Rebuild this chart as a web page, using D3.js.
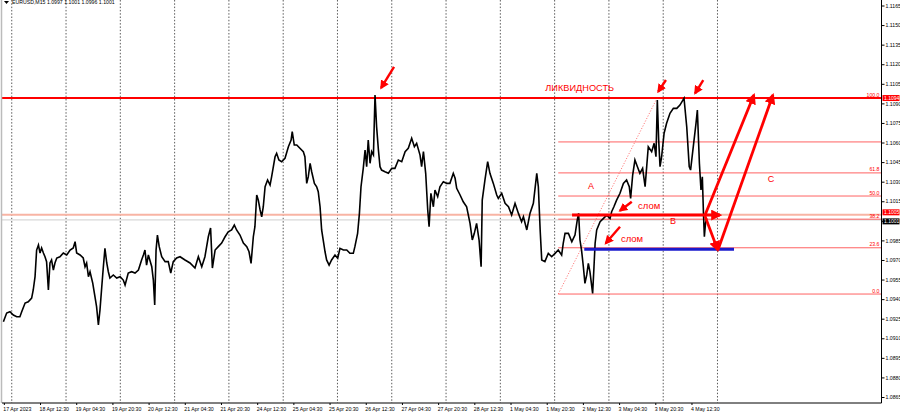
<!DOCTYPE html>
<html><head><meta charset="utf-8">
<script src="https://cdn.jsdelivr.net/npm/d3@7/dist/d3.min.js"></script>
<style>
html,body{margin:0;padding:0;background:#fff;}
svg{display:block;}
text{font-family:"Liberation Sans",Arial,sans-serif;}
</style></head>
<body>
<svg id="chart" width="900" height="417"></svg>
<script>
// ---- DATA ----
// trading hours since 17 Apr 2023 20:00 (weekends skipped), EURUSD M15 close
const hours = [0.3,1.75,3.2,4.7,6.2,7.6,8.4,9.9,11.3,12.8,13.5,14.3,15.0,15.8,16.5,17.2,18.0,18.7,19.4,20.2,20.9,21.6,22.4,23.1,23.9,25.3,26.8,28.3,29.8,31.2,32.0,32.7,34.2,35.6,36.4,37.1,37.9,38.6,39.8,40.8,41.5,42.3,43.0,43.8,44.5,45.2,46.0,46.7,47.4,48.9,50.4,51.9,53.3,54.1,55.5,57.0,58.5,60.0,61.4,62.2,62.9,63.6,64.4,65.9,66.6,67.2,67.8,68.4,69.2,70.3,71.8,73.2,74.3,75.4,76.9,78.4,
80.6,82.8,85.0,86.5,88.0,89.4,90.9,91.9,92.7,93.9,95.3,96.8,98.3,99.7,101.2,102.4,103.4,104.9,106.4,107.9,108.9,109.8,110.8,111.5,112.3,113.0,113.8,114.5,115.2,116.0,117.1,118.2,118.9,120.4,121.1,122.1,123.3,124.8,126.3,127.5,128.0,128.9,130.0,131.4,132.9,133.6,134.4,135.1,135.9,136.6,137.8,138.8,139.5,140.3,141.0,141.7,142.5,143.2,144.3,145.4,146.9,148.1,149.1,150.6,152.1,153.5,155.0,155.7,156.9,157.7,158.4,159.4,160.2,
160.9,161.6,162.4,163.1,163.9,164.6,165.3,166.1,166.8,167.5,169.0,170.5,172.0,173.4,174.9,176.4,177.9,179.3,180.8,182.0,183.0,184.5,185.2,186.0,187.0,187.9,188.5,189.3,190.4,191.1,192.3,193.3,194.8,196.3,197.7,199.2,200.0,200.7,202.2,203.6,205.1,206.6,207.6,208.5,209.5,210.6,211.5,212.0,213.2,214.4,215.4,216.9,218.4,219.1,220.6,222.1,223.6,225.0,226.5,228.0,229.4,230.2,231.7,233.1,234.6,236.1,236.8,237.6,
238.3,239.7,241.2,242.7,244.2,245.6,247.1,247.8,248.6,250.1,251.6,253.0,254.0,254.6,255.2,255.9,256.7,257.4,258.2,258.9,259.6,260.8,261.4,261.9,262.6,264.1,265.6,267.0,268.5,269.2,270.2,271.4,272.9,274.4,275.8,277.0,277.6,278.5,279.5,280.6,281.7,282.9,284.0,284.7,285.4,286.9,288.0,288.8,289.4,290.0,290.6,291.3,292.4,293.5,295.0,296.5,298.0,299.4,301.2,302.4,303.5,304.1,305.3,306.5,307.1,308.0,308.7,309.3,309.8,310.2,310.7,311.2];
const closes = [1.09227,1.09293,1.09303,1.09278,1.09265,1.09265,1.09303,1.0937,1.0938,1.09408,1.0947,1.09572,1.09776,1.09815,1.09753,1.09792,1.09753,1.09725,1.09687,1.0947,1.09677,1.097,1.09623,1.09677,1.09715,1.09725,1.09753,1.09738,1.09776,1.09792,1.0984,1.09753,1.09738,1.09715,1.09648,1.09677,1.09572,1.0961,1.09523,1.09418,1.09342,1.09202,1.09316,1.09495,1.09648,1.09789,1.09677,1.0961,1.09562,1.09585,1.09562,1.09572,1.09546,1.09508,1.096,1.0961,1.096,1.09623,1.097,1.09738,1.09776,1.09661,1.09738,1.09648,1.09546,1.09355,1.09776,1.09891,1.09802,1.09725,1.09687,1.09687,1.096,1.09687,1.09715,1.09725,
1.097,1.09677,1.09638,1.09725,1.09648,1.09725,1.09878,1.09945,1.09638,1.09776,1.09802,1.0983,1.09878,1.09916,1.0993,1.09968,1.0993,1.09891,1.0983,1.09802,1.09763,1.09674,1.09878,1.09955,1.10198,1.10159,1.10083,1.10031,1.10108,1.10261,1.10313,1.10274,1.10338,1.10491,1.10517,1.10466,1.10453,1.10479,1.10568,1.10619,1.10683,1.10581,1.10581,1.10556,1.1053,1.10491,1.10287,1.10338,1.10441,1.10376,1.10287,1.10261,1.10223,1.10108,1.0993,1.09853,1.09763,1.097,1.09661,1.097,1.09738,1.09713,1.09789,1.09776,1.09776,1.09751,1.09751,1.09802,1.09904,1.10057,1.10261,1.10402,1.10543,
1.10415,1.10619,1.10441,1.1053,1.10504,1.10964,1.10721,1.10543,1.10415,1.10389,1.10376,1.10364,1.10402,1.10402,1.10466,1.10453,1.1053,1.10556,1.10632,1.10568,1.10594,1.10504,1.10415,1.1053,1.10364,1.10083,1.09955,1.10211,1.10108,1.10236,1.10185,1.10261,1.103,1.10287,1.10287,1.10364,1.10326,1.10249,1.10198,1.10146,1.10108,1.09981,1.09853,1.09904,1.09981,1.09853,1.09648,1.10159,1.10313,1.10453,1.10364,1.10287,1.10198,1.10172,1.10211,1.10134,1.10108,1.10044,1.10134,1.10057,1.09993,1.10031,1.0993,1.10057,1.10134,1.10364,1.10261,1.0993,
1.097,1.09687,1.09751,1.09725,1.09751,1.09776,1.09738,1.09828,1.09904,1.09904,1.0984,1.09891,1.10006,1.10057,1.09853,1.09776,1.09648,1.09521,1.09585,1.09674,1.0961,1.09444,1.09648,1.09828,1.0993,1.09993,1.10019,1.10044,1.10019,1.1007,1.10108,1.10159,1.10211,1.10287,1.10313,1.10261,1.10172,1.10351,1.10466,1.10415,1.10364,1.10402,1.10261,1.10415,1.10568,1.1053,1.10594,1.10491,1.10926,1.10619,1.10415,1.10491,1.10671,1.10747,1.10824,1.10862,1.10862,1.10887,1.10939,1.10721,1.10415,1.10389,1.10568,1.10747,1.10849,1.10441,1.10236,1.10338,1.10057,1.09878,1.09981,1.10019];

const priceTicks = [1.1165,1.1150,1.1135,1.1120,1.1105,1.1090,1.1075,1.1060,1.1045,1.1030,1.1015,1.1000,1.0985,1.0970,1.0955,1.0940,1.0925,1.0910,1.0895,1.0880,1.0865];
const timeTickHours = [0.5,16.5,32.5,48.5,64.5,80.5,96.5,112.5,128.5,144.5,160.5,176.5,192.5,208.5,224.5,240.5,256.5,272.5,288.5,304.5];
const timeTickLabels = ["17 Apr 2023","18 Apr 12:30","19 Apr 04:30","19 Apr 20:30","20 Apr 12:30","21 Apr 04:30","21 Apr 20:30","24 Apr 12:30","25 Apr 04:30","25 Apr 20:30","26 Apr 12:30","27 Apr 04:30","27 Apr 20:30","28 Apr 12:30","1 May 04:30","1 May 20:30","2 May 12:30","3 May 04:30","3 May 20:30","4 May 12:30"];
const gridHours = [4,28,52,76,100,124,148,172,196,220,244,268,292,316];

// annotation values
const liquidityPrice = 1.10941;
const fibLow = 1.09439, fibHigh = 1.10941;
const fibStartHour = 245.6, fibDiagEndHour = 289.3;
const fibRatios = [0, 0.236, 0.382, 0.5, 0.618, 0.776, 1];
const fibLabels = ["0.0","23.6","38.2","50.0","61.8","","100.0"];
const salmonPrice = 1.10046, bidPrice = 1.10015;
const breakLevel = {h0:251.7, h1:317.1, p:1.10044};
const blueLevel = {h0:257.1, h1:323.3, p:1.09782};
const bigArrows = [
  {h0:310.5,p0:1.10036,h1:316.1,p1:1.09776},
  {h0:310.5,p0:1.10044,h1:332.1,p1:1.10964},
  {h0:316.2,p0:1.09776,h1:340.5,p1:1.10964}
];
const smallArrows = [
  {h0:173.0,p0:1.11179,h1:167.3,p1:1.11018},
  {h0:293.2,p0:1.11079,h1:289.8,p1:1.1099},
  {h0:309.7,p0:1.11079,h1:306.1,p1:1.10977},
  {h0:278.1,p0:1.10146,h1:272.9,p1:1.10077},
  {h0:272.9,p0:1.09955,h1:266.6,p1:1.09828}
];
const textNotes = [
  {t:"ЛИКВИДНОСТЬ", h:239.9, p:1.10995, size:9.2},
  {t:"слом", h:280.9, p:1.10094, size:9.5},
  {t:"слом", h:273.3, p:1.09838, size:9.5},
  {t:"A", h:258.8, p:1.10244, size:9},
  {t:"B", h:295.0, p:1.09979, size:9},
  {t:"C", h:338.2, p:1.10300, size:9}
];

// ---- CHART ----
const svg = d3.select("#chart");
const RED = "#ff0000";
const x = d3.scaleLinear().domain([0,100]).range([2.7,228.9]);
const y = d3.scaleLinear().domain([1.0865,1.1165]).range([397,5.5]);
const plotL = 2, plotR = 881.5, plotT = 0, plotB = 403;

svg.append("rect").attr("width",900).attr("height",417).attr("fill","#fff");

const defs = svg.append("defs");
function marker(id,size){
  defs.append("marker").attr("id",id).attr("viewBox","0 0 10 10").attr("refX",8).attr("refY",5)
    .attr("markerWidth",size).attr("markerHeight",size).attr("markerUnits","userSpaceOnUse").attr("orient","auto")
    .append("path").attr("d","M0,0 L10,5 L0,10 Z").attr("fill",RED);
}
marker("ahBig",11); marker("ahSmall",9);

// grid
svg.append("g").selectAll("line").data(gridHours).join("line")
  .attr("x1",d=>x(d)).attr("x2",d=>x(d)).attr("y1",plotT).attr("y2",plotB)
  .attr("stroke","#333").attr("stroke-width",0.8).attr("stroke-dasharray","1.5,1.8");

// salmon level and bid line
svg.append("line").attr("x1",plotL).attr("x2",plotR).attr("y1",y(salmonPrice)).attr("y2",y(salmonPrice))
  .attr("stroke","#f8b4a4").attr("stroke-width",2);
svg.append("line").attr("x1",plotL).attr("x2",plotR).attr("y1",y(bidPrice)+1).attr("y2",y(bidPrice)+1)
  .attr("stroke","#d8d8d8").attr("stroke-width",1.2);

// fib
const fibG = svg.append("g");
fibG.selectAll("line").data(fibRatios).join("line")
  .attr("x1",x(fibStartHour)).attr("x2",plotR)
  .attr("y1",d=>y(fibLow+d*(fibHigh-fibLow))).attr("y2",d=>y(fibLow+d*(fibHigh-fibLow)))
  .attr("stroke","#ff5050").attr("stroke-width",0.9);
fibG.selectAll("text").data(fibRatios).join("text")
  .attr("x",plotR-2).attr("y",d=>y(fibLow+d*(fibHigh-fibLow))-1.5)
  .attr("text-anchor","end").attr("font-size",5.2).attr("fill",RED)
  .text((d,i)=>fibLabels[i]);
fibG.append("line").attr("x1",x(fibStartHour)).attr("y1",y(fibLow)).attr("x2",x(fibDiagEndHour)).attr("y2",y(fibHigh))
  .attr("stroke","#ff6060").attr("stroke-width",0.8).attr("stroke-dasharray","1.2,1.6");

// liquidity line
svg.append("line").attr("x1",plotL).attr("x2",plotR).attr("y1",y(liquidityPrice)).attr("y2",y(liquidityPrice))
  .attr("stroke",RED).attr("stroke-width",2);

// price line
const line = d3.line().x((d,i)=>x(hours[i])).y(d=>y(d));
svg.append("path").datum(closes).attr("d",line).attr("fill","none").attr("stroke","#000").attr("stroke-width",1.6)
  .attr("stroke-linejoin","miter");

// blue level
svg.append("line").attr("x1",x(blueLevel.h0)).attr("x2",x(blueLevel.h1)).attr("y1",y(blueLevel.p)).attr("y2",y(blueLevel.p))
  .attr("stroke","#1a1acc").attr("stroke-width",3.2);
// break level arrow
svg.append("line").attr("x1",x(breakLevel.h0)).attr("x2",x(breakLevel.h1)).attr("y1",y(breakLevel.p)).attr("y2",y(breakLevel.p))
  .attr("stroke",RED).attr("stroke-width",3).attr("marker-end","url(#ahBig)");

svg.append("g").selectAll("line").data(bigArrows).join("line")
  .attr("x1",d=>x(d.h0)).attr("y1",d=>y(d.p0)).attr("x2",d=>x(d.h1)).attr("y2",d=>y(d.p1))
  .attr("stroke",RED).attr("stroke-width",2.8).attr("marker-end","url(#ahBig)");
svg.append("g").selectAll("line").data(smallArrows).join("line")
  .attr("x1",d=>x(d.h0)).attr("y1",d=>y(d.p0)).attr("x2",d=>x(d.h1)).attr("y2",d=>y(d.p1))
  .attr("stroke",RED).attr("stroke-width",2.4).attr("marker-end","url(#ahSmall)");

svg.append("g").selectAll("text").data(textNotes).join("text")
  .attr("x",d=>x(d.h)).attr("y",d=>y(d.p)).attr("font-size",d=>d.size).attr("fill",RED).text(d=>d.t);

// frame
svg.append("line").attr("x1",1.5).attr("x2",1.5).attr("y1",0).attr("y2",plotB).attr("stroke","#bbb").attr("stroke-width",1.5);

// axis price boxes (drawn over the scale, hiding covered tick labels)
const boxes = [
  {p:liquidityPrice, label:"1.1094", fill:RED, dy:0},
  {p:salmonPrice, label:"1.1005", fill:RED, dy:-2.5},
  {p:bidPrice, label:"1.1001", fill:"#000", dy:2.5}
];

// axes
const yAxis = d3.axisRight(y).tickValues(priceTicks).tickFormat(d3.format(".4f")).tickSize(3).tickPadding(1);
const gy = svg.append("g").attr("transform",`translate(${plotR},0)`).call(yAxis);
gy.select(".domain").attr("d",`M0,0V${plotB}`).attr("stroke","#000");
gy.selectAll("text").attr("font-size",5.2).attr("font-family","Liberation Sans, Arial, sans-serif").attr("fill","#000")
  .filter(d=>boxes.some(b=>Math.abs(y(b.p)+b.dy-y(d))<4.5)).remove();

const xAxis = d3.axisBottom(x).tickValues(timeTickHours).tickFormat((d,i)=>timeTickLabels[i]).tickSize(2).tickPadding(2);
const gx = svg.append("g").attr("transform",`translate(0,${plotB})`).call(xAxis);
gx.select(".domain").attr("d",`M${plotL},0H${plotR}`).attr("stroke","#000");
gx.selectAll("text").attr("font-size",5.2).attr("text-anchor","start").attr("dx",-1)
  .attr("font-family","Liberation Sans, Arial, sans-serif").attr("fill","#000");

const bg = svg.append("g");
bg.selectAll("rect").data(boxes).join("rect")
  .attr("x",plotR+1).attr("y",d=>y(d.p)+d.dy-3).attr("width",17).attr("height",6).attr("fill",d=>d.fill);
bg.selectAll("text").data(boxes).join("text")
  .attr("x",plotR+2.5).attr("y",d=>y(d.p)+d.dy+1.9).attr("font-size",5).attr("fill","#fff").text(d=>d.label);

// legend
svg.append("path").attr("d","M4,1 L9,1 L6.5,4 Z").attr("fill","#000");
svg.append("text").attr("x",12).attr("y",4).attr("font-size",5.2).attr("fill","#000")
  .text("EURUSD,M15  1.0997  1.1001  1.0996  1.1001");
</script>
</body></html>
